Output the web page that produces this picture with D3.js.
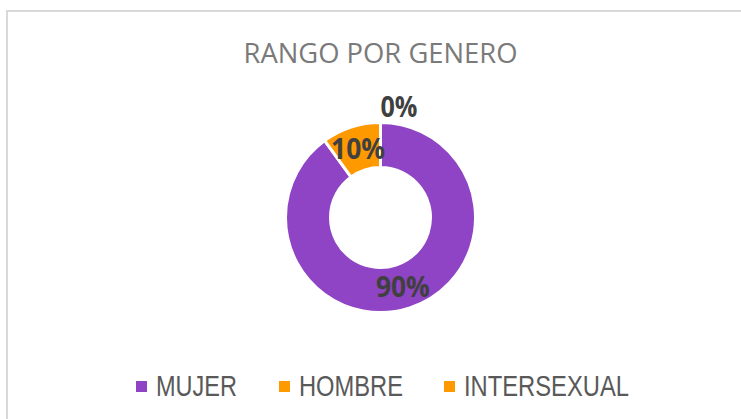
<!DOCTYPE html>
<html lang="es">
<head>
<meta charset="utf-8">
<title>Rango por genero</title>
<script src="https://cdn.jsdelivr.net/npm/d3@7"></script>
<style>
  html, body { margin: 0; padding: 0; background: #fff; }
  svg { display: block; }
</style>
</head>
<body>
<div id="chart"></div>
<script>
// data
var categories = ["MUJER", "HOMBRE", "INTERSEXUAL"];
var values = [90, 10, 0];
var colors = ["#8e44c4", "#ff9900", "#ff9900"];
var title = "RANGO POR GENERO";

var width = 741, height = 419;
var cx = 380.5, cy = 217.5;
var outerR = 95, innerR = 50;

var svg = d3.select("#chart")
  .append("svg")
    .attr("width", width)
    .attr("height", height);

// chart frame
svg.append("rect")
  .attr("x", 7).attr("y", 11)
  .attr("width", width).attr("height", height)
  .attr("fill", "#fff")
  .attr("stroke", "#d9d9d9")
  .attr("stroke-width", 2);

// title
svg.append("text")
  .attr("x", cx).attr("y", 63)
  .attr("text-anchor", "middle")
  .attr("font-family", "'Open Sans', sans-serif")
  .attr("font-size", 28)
  .attr("fill", "#7a7a7a")
  .attr("textLength", 274)
  .attr("lengthAdjust", "spacingAndGlyphs")
  .text(title);

var total = d3.sum(values);
var color = d3.scaleOrdinal().domain(categories).range(colors);

var pie = d3.pie().sort(null).value(function(d) { return d.value; });
var data = categories.map(function(c, i) { return { name: c, value: values[i] }; });
var arcs = pie(data);

var arc = d3.arc().innerRadius(innerR).outerRadius(outerR);
var outArc = d3.arc().innerRadius(110.5).outerRadius(110.5);

var g = svg.append("g").attr("transform", "translate(" + cx + "," + cy + ")");

g.selectAll("path")
  .data(arcs)
  .enter()
  .append("path")
    .attr("d", arc)
    .attr("fill", function(d) { return color(d.data.name); })
    .attr("stroke", "#fff")
    .attr("stroke-width", 3)
    .attr("stroke-linejoin", "round");

// percentage labels
g.selectAll("text.lbl")
  .data(arcs)
  .enter()
  .append("text")
    .attr("class", "lbl")
    .attr("transform", function(d) {
      var p = d.value > 0 ? arc.centroid(d) : outArc.centroid(d);
      return "translate(" + p + ")";
    })
    .attr("text-anchor", function(d) { return d.value > 0 ? "middle" : "start"; })
    .attr("dy", "0.36em")
    .attr("font-family", "'Open Sans', sans-serif")
    .attr("font-weight", "bold")
    .attr("font-size", 28.5)
    .attr("fill", "#404040")
    .attr("textLength", function(d) { return d.value > 0 ? 54 : 37; })
    .attr("lengthAdjust", "spacingAndGlyphs")
    .text(function(d) { return Math.round(d.value / total * 100) + "%"; });

// legend
var legendX = [136, 279, 444];
var legendW = [81, 104, 165];

var leg = svg.selectAll("g.legend")
  .data(categories)
  .enter()
  .append("g")
    .attr("class", "legend")
    .attr("transform", function(d, i) { return "translate(" + legendX[i] + ",0)"; });

leg.append("rect")
  .attr("x", 0).attr("y", 381)
  .attr("width", 11).attr("height", 11)
  .attr("fill", function(d) { return color(d); });

leg.append("text")
  .attr("x", 20).attr("y", 396)
  .attr("font-family", "'Liberation Sans', Arial, sans-serif")
  .attr("font-size", 29)
  .attr("fill", "#595959")
  .attr("textLength", function(d, i) { return legendW[i]; })
  .attr("lengthAdjust", "spacingAndGlyphs")
  .text(function(d) { return d; });
</script>
</body>
</html>
